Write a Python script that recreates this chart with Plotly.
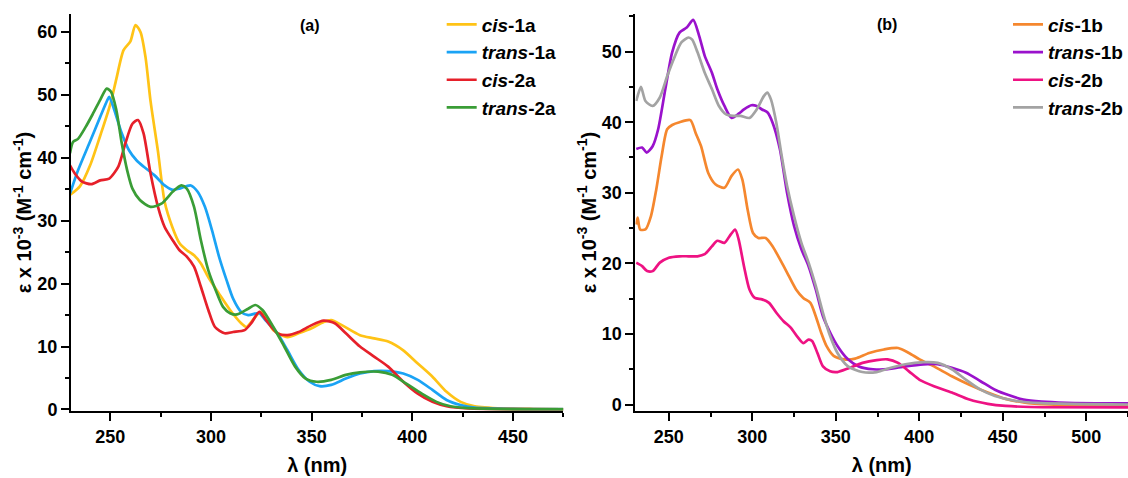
import plotly.graph_objects as go

# ---------------- Panel (a) data ----------------
wl_cis1a = [230, 235, 240, 245, 250, 253, 256.6, 260, 262.5, 265, 267.5, 270, 273.7, 277, 280.8, 284.4, 288, 291.6, 295,
            298.7, 304, 309.5, 315, 317.6, 322, 324.7, 331, 338, 343.5, 350, 356, 359.7, 365, 374, 381, 388, 395.5,
            402.7, 410, 417, 424, 431, 445, 460, 475]
eps_cis1a = [34.1, 35.5, 38.8, 43.5, 48.5, 52.5, 57.1, 58.5, 61.1, 60.0, 56.0, 49.0, 41.0, 33.0, 29.0, 26.4, 25.3, 24.5, 23.2,
             21.0, 18.4, 15.8, 13.7, 13.1, 14.7, 15.5, 12.6, 11.5, 12.1, 12.9, 13.9, 14.2, 13.4, 11.8, 11.3, 10.8, 9.4,
             7.3, 5.2, 2.8, 1.2, 0.5, 0.15, 0.07, 0.05]

wl_trans1a = [230, 234, 239.6, 245, 248.6, 249.5, 252, 255.7, 259.3, 263, 266.5, 272, 277, 281, 284.4, 288, 290, 293.4, 297,
              300.5, 304, 307.7, 311, 315, 318.5, 324, 327, 333, 338, 343.5, 349, 354, 359.7, 367, 374, 381, 388, 395.5,
              402.7, 410, 417, 424, 431, 450, 475]
eps_trans1a = [34.3, 38.0, 42.3, 46.5, 49.2, 49.7, 47.6, 43.9, 41.2, 39.6, 38.6, 37.2, 35.6, 34.9, 35.1, 35.5, 35.6, 34.6, 32.2,
               28.5, 24.3, 20.6, 17.6, 15.5, 15.0, 15.3, 14.2, 12.1, 9.4, 6.3, 4.4, 3.7, 3.9, 4.9, 5.7, 6.1, 6.1, 5.7,
               4.7, 3.1, 1.5, 0.7, 0.3, 0.1, 0.05]

wl_cis2a = [230, 232.4, 236, 240.5, 245, 249.5, 254, 257.5, 261, 263.8, 266.5, 270, 273.7, 277, 281, 284.4, 288, 291.6, 295,
            298.7, 302, 306.8, 311, 316.7, 320, 324, 327.4, 333, 338, 343.5, 350, 356, 361.5, 367, 374, 381, 388, 395.5,
            402.7, 410, 417, 428, 450, 475]
eps_cis2a = [38.8, 37.5, 36.2, 35.8, 36.4, 36.7, 38.6, 42.3, 45.4, 46.0, 43.9, 37.5, 32.2, 29.0, 26.9, 25.3, 24.3, 22.7, 19.5,
             15.8, 13.1, 12.1, 12.3, 12.6, 13.7, 15.5, 14.2, 12.1, 11.8, 12.3, 13.4, 14.1, 13.7, 12.1, 10.0, 8.4, 6.8, 4.4,
             2.5, 1.2, 0.5, 0.15, 0.05, 0.03]

wl_trans2a = [230, 231.5, 234, 237.8, 241.4, 245, 248.2, 250.4, 253, 255.7, 258.4, 261, 264.7, 270, 275.4, 281, 285.3, 288,
              291.6, 295, 298.7, 302.3, 306, 309.5, 313, 318.5, 322, 325.6, 331, 336.4, 341.8, 347, 352.5, 359.7, 367, 374,
              383, 390, 397, 404.7, 412, 419, 428, 450, 475]
eps_trans2a = [40.7, 42.5, 43.0, 44.9, 47.0, 49.2, 51.0, 50.5, 47.6, 42.3, 38.0, 35.1, 33.3, 32.2, 32.7, 34.6, 35.6, 35.1,
               32.2, 26.9, 22.1, 19.0, 16.3, 15.3, 15.1, 16.0, 16.6, 15.8, 13.1, 10.0, 6.8, 4.9, 4.4, 4.7, 5.5, 5.9,
               6.0, 5.5, 4.1, 2.5, 1.2, 0.5, 0.2, 0.05, 0.03]

# ---------------- Panel (b) data ----------------
wl_cis1b = [230.5, 231.3, 232.8, 236, 239.3, 242.5, 245.7, 249, 252, 256.4, 262.9, 266, 269.3, 273.6, 277.9, 283.3, 287.6,
            291.4, 294, 297.2, 300.4, 303.6, 308, 312.2, 316.5, 320.8, 326.2, 330.5, 334.8, 338, 341.2, 344.4, 348.7,
            355.2, 361.6, 370, 378.8, 387.3, 393.8, 400.2, 408.8, 419.5, 430, 441, 451.7, 462.4, 477.5, 500, 525]
eps_cis1b = [25.5, 26.5, 24.8, 24.8, 26.7, 30.5, 35.2, 39.0, 39.6, 40.0, 40.3, 38.5, 36.6, 32.8, 31.2, 30.7, 32.4,
             33.3, 31.9, 27.6, 24.3, 23.6, 23.6, 22.4, 20.6, 18.7, 16.3, 15.1, 14.4, 12.5, 10.2, 8.3, 6.9,
             6.4, 6.5, 7.3, 7.8, 8.0, 7.3, 6.4, 5.4, 4.0, 2.8, 1.7, 0.8, 0.3, 0.0, -0.1, -0.1]

wl_trans1b = [230.5, 234, 236.7, 240.3, 243.6, 247.9, 252, 256.4, 260.7, 264.6, 268.2, 271.5, 275.8, 279, 283.3, 287.6,
              291.8, 295, 299.4, 302.6, 305.8, 309, 312.2, 316.5, 320.8, 325, 329.4, 333.7, 338, 342.3, 346.6, 351,
              357.3, 363.7, 372.3, 381, 391.6, 402.4, 411, 419.5, 428, 436.7, 445.3, 453.9, 462.4, 473.2, 488, 525]
eps_trans1b = [36.2, 36.4, 35.7, 36.6, 39.0, 44.7, 49.9, 52.7, 53.4, 54.5, 52.2, 49.4, 47.0, 44.7, 42.3, 40.6,
               41.2, 41.8, 42.4, 42.3, 41.8, 41.4, 39.9, 36.2, 30.0, 25.3, 22.0, 19.6, 16.3, 12.5, 10.2, 8.3,
               6.4, 5.4, 5.0, 5.0, 5.4, 5.7, 5.7, 5.2, 4.5, 3.3, 2.1, 1.3, 0.7, 0.4, 0.24, 0.15]

wl_cis2b = [230.5, 234, 237, 240.3, 244.6, 250, 256.4, 261.8, 267.2, 271.5, 275.8, 279, 283.3, 286.5, 289.7, 291.8, 295,
            298.3, 301.5, 305.8, 310, 314.4, 318.7, 323, 327.3, 330.5, 333.7, 335.8, 339, 342.3, 346.6, 351, 357.3,
            366, 374.5, 381, 387.3, 393.8, 400.2, 408.8, 419.5, 430, 441, 451.7, 466.7, 525]
eps_cis2b = [20.1, 19.6, 18.9, 18.9, 20.1, 20.8, 21.0, 21.0, 21.0, 21.3, 22.4, 23.2, 22.9, 23.9, 24.8, 23.4, 19.6,
             16.3, 15.1, 14.9, 14.4, 13.0, 11.8, 10.9, 9.5, 8.7, 9.2, 9.0, 7.3, 5.4, 4.7, 4.6, 5.1,
             5.9, 6.3, 6.4, 5.9, 4.7, 3.5, 2.6, 1.7, 0.7, 0.1, -0.2, -0.35, -0.4]

wl_trans2b = [230.5, 231.3, 233.3, 236, 240.3, 244.6, 249, 253.2, 257.5, 261.8, 264, 267.2, 271.5, 275.8, 280, 284.3,
              288.6, 292.9, 298.3, 302.6, 306.9, 309, 311.2, 314.4, 317.6, 320.8, 325, 329.4, 333.7, 338, 342.3,
              346.6, 351, 357.3, 365.9, 374.5, 383, 391.6, 402.4, 411, 419.5, 428, 436.7, 445.3, 458, 473, 525]
eps_trans2b = [43.0, 43.7, 45.0, 43.0, 42.3, 43.5, 46.5, 49.1, 51.3, 52.0, 51.7, 49.9, 47.0, 44.7, 42.3, 41.1,
               40.9, 40.9, 40.6, 41.8, 43.7, 44.2, 43.2, 39.9, 35.2, 31.0, 26.7, 22.9, 20.1, 16.8, 13.0,
               9.7, 7.3, 5.4, 4.6, 4.6, 5.2, 5.7, 6.0, 5.9, 5.0, 3.5, 2.1, 1.2, 0.5, 0.2, 0.0]

names_a = ["<b><i>cis</i>-1a</b>", "<b><i>trans</i>-1a</b>", "<b><i>cis</i>-2a</b>", "<b><i>trans</i>-2a</b>"]
names_b = ["<b><i>cis</i>-1b</b>", "<b><i>trans</i>-1b</b>", "<b><i>cis</i>-2b</b>", "<b><i>trans</i>-2b</b>"]
colors_a = ["#FFC316", "#1AA3F5", "#E6202A", "#3A9D36"]
colors_b = ["#F5872E", "#9A12CC", "#EE1283", "#A3A3A3"]

FONT = "Liberation Sans, Arial, sans-serif"

fig = go.Figure()
series_a = [(wl_cis1a, eps_cis1a), (wl_trans1a, eps_trans1a), (wl_cis2a, eps_cis2a), (wl_trans2a, eps_trans2a)]
series_b = [(wl_cis1b, eps_cis1b), (wl_trans1b, eps_trans1b), (wl_cis2b, eps_cis2b), (wl_trans2b, eps_trans2b)]

for (x, y), n, c in zip(series_a, names_a, colors_a):
    fig.add_trace(go.Scatter(x=x, y=y, name=n, mode="lines",
                             line=dict(color=c, width=2.7, shape="spline", smoothing=0.7),
                             xaxis="x", yaxis="y", legend="legend"))
for (x, y), n, c in zip(series_b, names_b, colors_b):
    fig.add_trace(go.Scatter(x=x, y=y, name=n, mode="lines",
                             line=dict(color=c, width=2.7, shape="spline", smoothing=0.7),
                             xaxis="x2", yaxis="y2", legend="legend2"))

common_axis = dict(showline=True, linecolor="black", linewidth=2, showgrid=False, zeroline=False,
                   ticks="outside", ticklen=8, tickwidth=2, tickcolor="black",
                   tickfont=dict(family=FONT, size=18, color="black", weight="bold"))

ytitle = "<b>ε x 10<sup>-3</sup> (M<sup>-1</sup> cm<sup>-1</sup>)</b>"
xtitle = "<b>λ (nm)</b>"
title_font = dict(family=FONT, size=20, color="black")
minor_x = dict(ticks="outside", ticklen=4, tickwidth=2, tickcolor="black", dtick=25, tick0=250)
minor_y = dict(ticks="outside", ticklen=4, tickwidth=2, tickcolor="black", dtick=5, tick0=0)

fig.update_layout(
    width=1128, height=478,
    margin=dict(l=71, r=0, t=14, b=66.5),
    plot_bgcolor="white", paper_bgcolor="white",
    font=dict(family=FONT, color="black"),
    xaxis=dict(domain=[0, 0.4658], range=[230.5, 475], tickvals=[250, 300, 350, 400, 450], minor=minor_x,
               title=dict(text=xtitle, font=title_font, standoff=12), anchor="y", **common_axis),
    yaxis=dict(range=[-0.25, 62.85], tickvals=[0, 10, 20, 30, 40, 50, 60], minor=minor_y,
               title=dict(text=ytitle, font=title_font, standoff=0), anchor="x", **common_axis),
    xaxis2=dict(domain=[0.534, 1], range=[230, 525], tickvals=[250, 300, 350, 400, 450, 500], minor=minor_x,
                title=dict(text=xtitle, font=title_font, standoff=12), anchor="y2", **common_axis),
    yaxis2=dict(range=[-0.92, 55.33], tickvals=[0, 10, 20, 30, 40, 50], minor=minor_y,
                title=dict(text=ytitle, font=title_font, standoff=0), anchor="x2", **common_axis),
    legend=dict(x=0.3507, xanchor="left", y=1.0214, yanchor="top", bgcolor="rgba(0,0,0,0)",
                font=dict(family=FONT, size=19, color="black"), tracegroupgap=0),
    legend2=dict(x=0.8868, xanchor="left", y=1.0214, yanchor="top", bgcolor="rgba(0,0,0,0)",
                 font=dict(family=FONT, size=19, color="black"), tracegroupgap=0),
    showlegend=True,
    annotations=[
        dict(text="<b>(a)</b>", x=349, y=61, xref="x", yref="y", showarrow=False,
             font=dict(family=FONT, size=16, color="black")),
        dict(text="<b>(b)</b>", x=380.5, y=53.8, xref="x2", yref="y2", showarrow=False,
             font=dict(family=FONT, size=16, color="black")),
    ],
)

fig.write_html("out.html")
